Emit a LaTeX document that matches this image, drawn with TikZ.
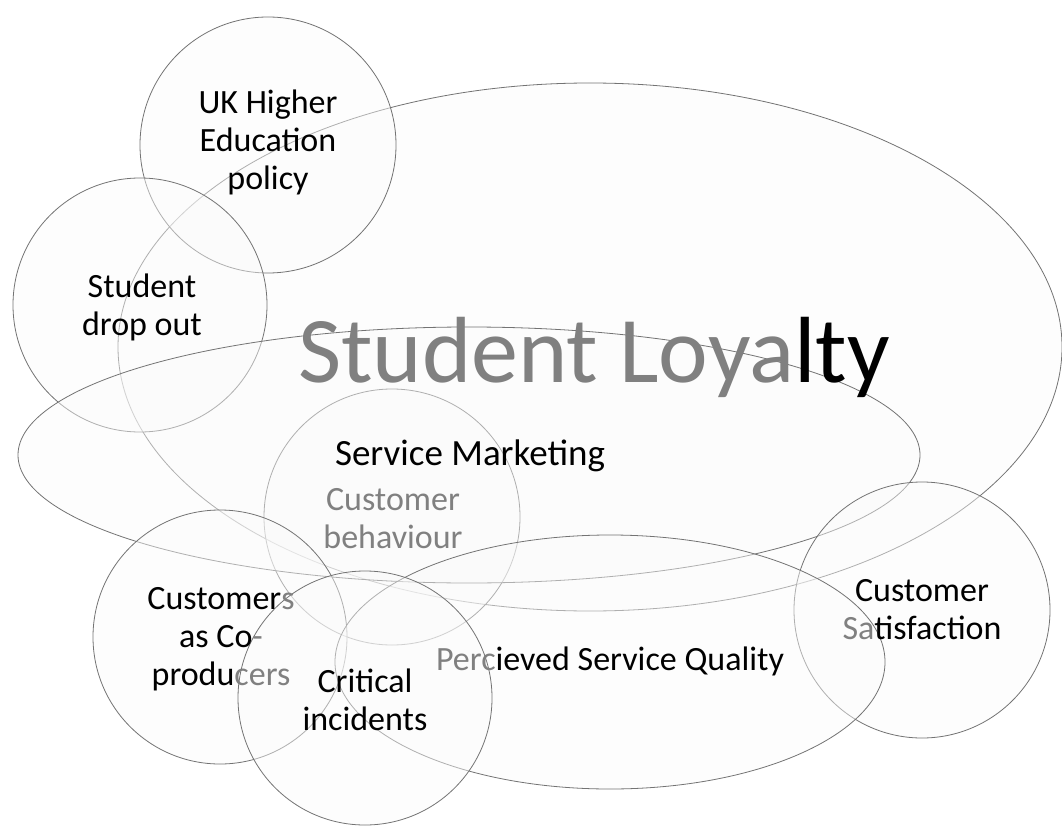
\documentclass[tikz,border=0pt]{standalone}
\usepackage{fontspec}
\setmainfont{Carlito}
\usepackage{tikz}
\usetikzlibrary{positioning}

\definecolor{rim}{gray}{0.45}
\definecolor{fade}{gray}{0.5}

\begin{document}
\begin{tikzpicture}[x=1pt, y=-1pt,
  set/.style={draw=rim, line width=0.8pt, fill=black!2, fill opacity=0.45},
  lbl/.style={align=center, inner sep=0pt, anchor=base,
              font=\fontsize{34}{38}\selectfont}]
\useasboundingbox (0,0) rectangle (1062,826);

% Sets, back to front
\draw[set] (590,347) ellipse [x radius=472pt, y radius=264pt];  % loyalty
\draw[set] (268,145) circle [radius=128pt];                      % policy
\draw[set] (140,305) circle [radius=127pt];                      % drop out
\draw[set] (392,517) circle [radius=128pt];                      % behaviour
\draw[set] (469,455) ellipse [x radius=451pt, y radius=128pt];  % marketing
\draw[set] (220,637) circle [radius=127pt];                      % co-producers
\draw[set] (922,610) circle [radius=128pt];                      % satisfaction
\draw[set] (610,662) ellipse [x radius=275pt, y radius=127pt];  % quality
\draw[set] (365,698) circle [radius=127pt];                      % incidents

% Labels (base = baseline of the last line)
\node[lbl, font=\fontsize{94}{100}\selectfont] (loyalty) at (594,382)
  {\textcolor{fade}{Student Loya}lty};
\node[lbl] (policy) at (268,190) {UK Higher\\Education\\policy};
\node[lbl] (dropout) at (142,335) {Student\\drop out};
\node[lbl, font=\fontsize{37}{40}\selectfont] (marketing) at (470,465) {Service Marketing};
\node[lbl, text=fade] (behaviour) at (393,548) {Customer\\behaviour};
\node[lbl] (coprod) at (221,685)
  {Customer\textcolor{fade}{s}\\as Co\textcolor{fade}{-}\\produ\textcolor{fade}{cers}};
\node[lbl] (incidents) at (365,730) {Critical\\incidents};
\node[lbl] (quality) at (610,670) {\textcolor{fade}{Perc}ieved Service Quality};
\node[lbl] (satisfaction) at (922,639) {Customer\\\textcolor{fade}{Sa}tisfaction};

\end{tikzpicture}
\end{document}
